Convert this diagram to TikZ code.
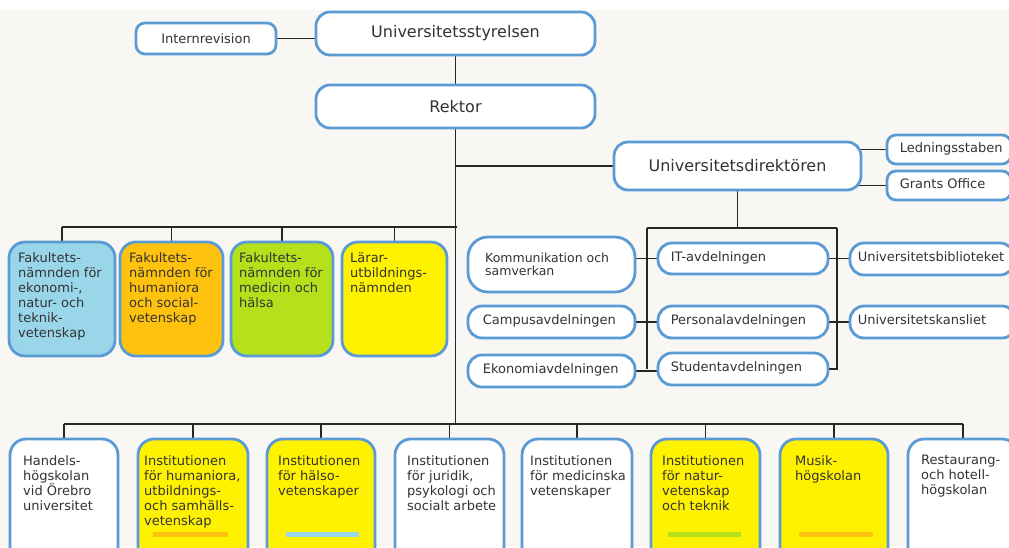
\documentclass[tikz,border=0pt]{standalone}
\usepackage{fontspec}
\setmainfont{DejaVu Sans}
\usetikzlibrary{backgrounds}
\definecolor{bordblue}{HTML}{5A9BD5}
\definecolor{bgbeige}{HTML}{F8F7F4}
\definecolor{txt}{HTML}{333333}
\definecolor{facblue}{HTML}{9AD6E9}
\definecolor{facorange}{HTML}{FFC20E}
\definecolor{facgreen}{HTML}{B4E01C}
\definecolor{facyellow}{HTML}{FFF200}
\newcommand\orgbox[7][]{%
  \node[box,#1,minimum width={(#4)-(#2)},minimum height={(#5)-(#3)}] (#6) at ({((#2)+(#4))/2},{((#3)+(#5))/2}) {#7};}
\begin{document}
\begin{tikzpicture}[x=1pt,y=-1pt,
  box/.style={draw=bordblue, line width=2.8pt, fill=white, rounded corners=14pt, inner sep=0pt, text=txt, font=\fontsize{13}{15}\selectfont},
  big/.style={font=\fontsize{16}{19}\selectfont},
  tall/.style={rounded corners=16pt},
  conn/.style={draw=black!85, line width=1.4pt},
  lbl/.style={font=\fontsize{13}{15}\selectfont, text=txt, align=left, inner sep=0pt, anchor=north west},
  slbl/.style={font=\fontsize{13}{15}\selectfont, text=txt, inner sep=0pt, anchor=mid west},
  bar/.style={line width=0pt}]
\useasboundingbox (0,0) rectangle (1009,547);
\clip (0,0) rectangle (1009,547);
\begin{scope}[on background layer]
  \fill[white] (0,0) rectangle (1009,10);
  \fill[bgbeige] (0,10) rectangle (1009,547);
\end{scope}

% top
\orgbox[rounded corners=9pt]{136}{23}{276}{54}{intr}{Internrevision}
\orgbox[big]{316}{12}{595}{55}{styr}{Universitetsstyrelsen}
\orgbox[big]{316}{85}{595}{128}{rek}{Rektor}
\orgbox[big]{614}{142}{861}{190}{dir}{Universitetsdirektören}
\orgbox[rounded corners=9pt]{887}{135}{1011}{164}{led}{}
\orgbox[rounded corners=9pt]{887}{171}{1011}{200}{gra}{}
\node[slbl] (ledt) at ([xshift=14pt]led.west) {Ledningsstaben};
\node[slbl] (grat) at ([xshift=14pt]gra.west) {Grants Office};

% faculties
\orgbox[tall,fill=facblue]{9}{242}{115}{356}{fac1}{}
\orgbox[tall,fill=facorange]{120}{242}{223}{356}{fac2}{}
\orgbox[tall,fill=facgreen]{231}{242}{333}{356}{fac3}{}
\orgbox[tall,fill=facyellow]{342}{242}{447}{356}{fac4}{}
\node[lbl] (fac1t) at (18,252.5) {Fakultets-\\nämnden för\\ekonomi-,\\natur- och\\teknik-\\vetenskap};
\node[lbl] (fac2t) at (129,252.5) {Fakultets-\\nämnden för\\humaniora\\och social-\\vetenskap};
\node[lbl] (fac3t) at (239,252.5) {Fakultets-\\nämnden för\\medicin och\\hälsa};
\node[lbl] (fac4t) at (350,252.5) {Lärar-\\utbildnings-\\nämnden};

% administration
\orgbox[rounded corners=20pt]{468}{237}{635}{292}{kom}{}
\node[lbl, font=\fontsize{12.5}{13}\selectfont] (komt) at (485,252.5) {Kommunikation och\\samverkan};
\orgbox{468}{306}{635}{338}{camp}{}
\orgbox{468}{355}{635}{387}{eko}{}
\orgbox{658}{243}{828}{274}{it}{}
\orgbox{658}{306}{828}{338}{pers}{}
\orgbox{658}{353}{828}{385}{stu}{}
\orgbox{850}{243}{1014}{275}{bib}{}
\orgbox{850}{306}{1016}{338}{kan}{}
\node[slbl] (campt) at ([xshift=16pt]camp.west) {Campusavdelningen};
\node[slbl] (ekot) at ([xshift=16pt]eko.west) {Ekonomiavdelningen};
\node[slbl] (itt) at ([xshift=14pt]it.west) {IT-avdelningen};
\node[slbl] (perst) at ([xshift=14pt]pers.west) {Personalavdelningen};
\node[slbl] (stut) at ([xshift=14pt]stu.west) {Studentavdelningen};
\node[slbl] (bibt) at ([xshift=9pt]bib.west) {Universitetsbiblioteket};
\node[slbl] (kant) at ([xshift=9pt]kan.west) {Universitetskansliet};

% institutions
\orgbox[tall]{10}{439}{118}{575}{b1}{}
\orgbox[tall,fill=facyellow]{138}{439}{248}{575}{b2}{}
\orgbox[tall,fill=facyellow]{267}{439}{375}{575}{b3}{}
\orgbox[tall]{395}{439}{504}{575}{b4}{}
\orgbox[tall]{522}{439}{632}{575}{b5}{}
\orgbox[tall,fill=facyellow]{651}{439}{760}{575}{b6}{}
\orgbox[tall,fill=facyellow]{780}{439}{888}{575}{b7}{}
\orgbox[tall]{908}{439}{1018}{575}{b8}{}
\fill[facorange] (153,532) rectangle (228,537);
\fill[facblue] (286,532) rectangle (359,537);
\fill[facgreen] (668,532) rectangle (741,537);
\fill[facorange] (799,532) rectangle (873,537);
\node[lbl] (b1t) at (23,455) {Handels-\\högskolan\\vid Örebro\\universitet};
\node[lbl] (b2t) at (144,455) {Institutionen\\för humaniora,\\utbildnings-\\och samhälls-\\vetenskap};
\node[lbl] (b3t) at (278,455) {Institutionen\\för hälso-\\vetenskaper};
\node[lbl] (b4t) at (407,455) {Institutionen\\för juridik,\\psykologi och\\socialt arbete};
\node[lbl] (b5t) at (530,455) {Institutionen\\för medicinska\\vetenskaper};
\node[lbl] (b6t) at (662,455) {Institutionen\\för natur-\\vetenskap\\och teknik};
\node[lbl] (b7t) at (795,455) {Musik-\\högskolan};
\node[lbl] (b8t) at (921,455) {Restaurang-\\och hotell-\\högskolan};

% junctions
\coordinate (fj) at (457,227);
\coordinate (bj) at (457,424);
\coordinate (rl) at (647,228);
\coordinate (rr) at (837,228);

% connectors
\begin{scope}[on background layer]
  \draw[conn] (intr) -- (intr -| styr);
  \draw[conn] (styr) -- (rek);
  \draw[conn] (rek) -- (rek |- bj);
  \draw[conn] (rek |- dir) -- (dir);
  \draw[conn] (dir |- led) -- (led);
  \draw[conn] (dir |- gra) -- (gra);
  \draw[conn] (fac1 |- fj) -- (fj);
  \foreach \f in {fac1,fac2,fac3,fac4} \draw[conn] (\f) -- (\f |- fj);
  \draw[conn] (b1 |- bj) -- (b8 |- bj);
  \foreach \b in {b1,b2,b3,b4,b5,b6,b7,b8} \draw[conn] (\b) -- (\b |- bj);
  \draw[conn] (dir) -- (dir |- rl);
  \draw[conn] (rl) -- (rr);
  \draw[conn] (rl) -- (rl |- stu);
  \draw[conn] (rr) -- (rr |- stu) -- (stu);
  \draw[conn] (kom |- it) -- (it);
  \draw[conn] (camp) -- (pers);
  \draw[conn] (eko) -- (eko -| stu);
  \draw[conn] (it) -- (it -| bib);
  \draw[conn] (pers) -- (pers -| kan);
\end{scope}
\end{tikzpicture}
\end{document}
